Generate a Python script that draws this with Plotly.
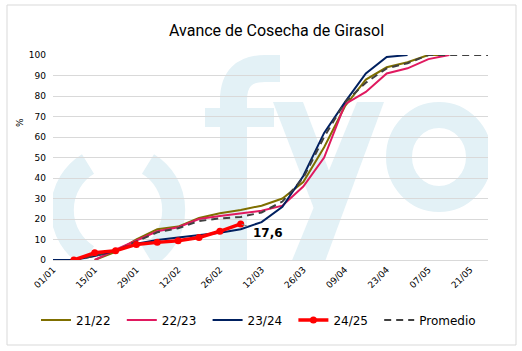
import base64
import plotly.graph_objects as go

# ---- data ----
dates = ["2025-01-01", "2025-01-08", "2025-01-15", "2025-01-22", "2025-01-29",
         "2025-02-05", "2025-02-12", "2025-02-19", "2025-02-26", "2025-03-05",
         "2025-03-12", "2025-03-19", "2025-03-26", "2025-04-02", "2025-04-09",
         "2025-04-16", "2025-04-23", "2025-04-30", "2025-05-07", "2025-05-14",
         "2025-05-21", "2025-05-28"]

s2122 = [None, None, 0, 4, 10, 15, 16.3, 20.5, 22.8, 24.4, 26.5, 30, 38, 55, 75,
         88, 94, 96.5, 100, 100, None, None]
s2223 = [None, None, 0, 5, 9.5, 14, 16, 20, 21.5, 22.8, 24, 26.5, 35.8, 50, 76,
         82, 91, 93.5, 98, 100, None, None]
s2324 = [0, 0, 2, 4.5, 8, 9.8, 11, 12, 13.3, 15, 18.5, 26, 41, 62, 77,
         91, 99, 100, None, None, None, None]
s2425 = [None, 0, 3.5, 4.5, 7.6, 8.6, 9.4, 11, 14, 17.6]
prom = [None, 0, 2, 4.5, 9, 13.5, 15.5, 19, 20.3, 21, 23.2, 28.5, 40, 60, 77,
        86.5, 93.5, 96, 100, 100, 100, 100]

series_names = ["21/22", "22/23", "23/24", "24/25", "Promedio"]
last_label = "17,6"

# ---- layout geometry (page pixels) ----
W, H = 522, 351
L, R, T, B = 53, 488, 55, 260


def px(xp):
    return (xp - L) / (R - L)


def py(yp):
    return (B - yp) / (B - T)


PAD = "\u00a0\u2009"  # small trailing gap between legend entries

# watermark (fyo logo) as an SVG background of the plot area
wm = "#e3f1f6"
svg = f'''<svg xmlns="http://www.w3.org/2000/svg" width="{R-L}" height="{B-T}" viewBox="{L} {T} {R-L} {B-T}">
<g fill="none" stroke="{wm}" stroke-width="23">
<path d="M 88 164 A 54 54 0 0 0 88 256"/>
<path d="M 148 164 A 54 54 0 0 1 148 256"/>
</g>
<g fill="{wm}">
<rect x="220" y="95" width="27" height="170"/>
<rect x="205" y="108" width="69" height="19"/>
<polygon points="273,102 303,102 342,205 326,240"/>
<polygon points="357,102 384,102 320,275 286,275"/>
</g>
<path d="M 233.5 100 Q 233.5 68.5 265 68.5 L 280 68.5" fill="none" stroke="{wm}" stroke-width="27"/>
<ellipse cx="439" cy="157" rx="40" ry="42" fill="none" stroke="{wm}" stroke-width="26"/>
</svg>'''
svg_uri = "data:image/svg+xml;base64," + base64.b64encode(svg.encode()).decode()

fig = go.Figure()

fig.add_trace(go.Scatter(x=dates, y=s2122, name=series_names[0] + PAD, mode="lines",
                         line=dict(color="#7f6f00", width=2), legendrank=1))
fig.add_trace(go.Scatter(x=dates, y=s2223, name=series_names[1] + PAD, mode="lines",
                         line=dict(color="#e0195f", width=2), legendrank=2))
fig.add_trace(go.Scatter(x=dates, y=s2324, name=series_names[2] + PAD, mode="lines",
                         line=dict(color="#002060", width=2), legendrank=3))
fig.add_trace(go.Scatter(x=dates, y=prom, name=series_names[4], mode="lines",
                         line=dict(color="#404040", width=2, dash="7px,5px"),
                         legendrank=5))
fig.add_trace(go.Scatter(x=dates[:len(s2425)], y=s2425, name=series_names[3] + PAD,
                         mode="lines+markers",
                         line=dict(color="#ff0000", width=3.5),
                         marker=dict(color="#ff0000", size=7), legendrank=4))

fig.add_annotation(x=dates[len(s2425) - 1], y=s2425[-1], text="<b>" + last_label + "</b>",
                   showarrow=True, arrowhead=0, arrowwidth=1, arrowcolor="#7f7f7f",
                   ax=27, ay=9, startstandoff=4, standoff=1,
                   font=dict(family="DejaVu Sans", size=12, color="#000000"))

# title
fig.add_annotation(x=px(276), y=py(31), xref="paper", yref="paper",
                   text="Avance de Cosecha de Girasol", showarrow=False,
                   xanchor="center", yanchor="middle",
                   font=dict(family="Roboto, sans-serif", size=16, color="#000000"))
# y-axis unit
fig.add_annotation(x=px(20), y=py(123), xref="paper", yref="paper", text="%",
                   showarrow=False, textangle=-90, xanchor="center", yanchor="middle",
                   font=dict(family="DejaVu Sans", size=9, color="#000000"))

# outer chart border
fig.add_shape(type="rect", xref="paper", yref="paper",
              x0=px(7), x1=px(516), y0=py(345), y1=py(5),
              line=dict(color="#d9d9d9", width=1), fillcolor="rgba(0,0,0,0)")

fig.add_layout_image(source=svg_uri, xref="paper", yref="paper", x=0, y=1,
                     sizex=1, sizey=1, xanchor="left", yanchor="top",
                     sizing="stretch", layer="below")

fig.update_layout(
    width=W, height=H,
    margin=dict(l=L, r=W - R, t=T, b=H - B, autoexpand=False),
    paper_bgcolor="white", plot_bgcolor="rgba(0,0,0,0)",
    font=dict(family="DejaVu Sans", color="#000000"),
    showlegend=True,
    legend=dict(orientation="h", x=px(36), y=py(320), xanchor="left",
                yanchor="middle", font=dict(size=12, color="#000000"),
                bgcolor="rgba(0,0,0,0)"),
    xaxis=dict(type="date", range=["2025-01-01", "2025-05-27"],
               tick0="2025-01-01", dtick=14 * 86400000, tickformat="%d/%m",
               tickangle=-45, showgrid=False, zeroline=False,
               showline=True, linecolor="#d9d9d9", linewidth=1,
               ticks="", tickfont=dict(size=9, color="#000000")),
    yaxis=dict(range=[0, 100], dtick=10, showgrid=True, gridcolor="#d9d9d9",
               gridwidth=1, zeroline=False, showline=False, ticks="",
               ticklabelstandoff=6, tickfont=dict(size=9, color="#000000")),
)

fig.write_html("out.html")
